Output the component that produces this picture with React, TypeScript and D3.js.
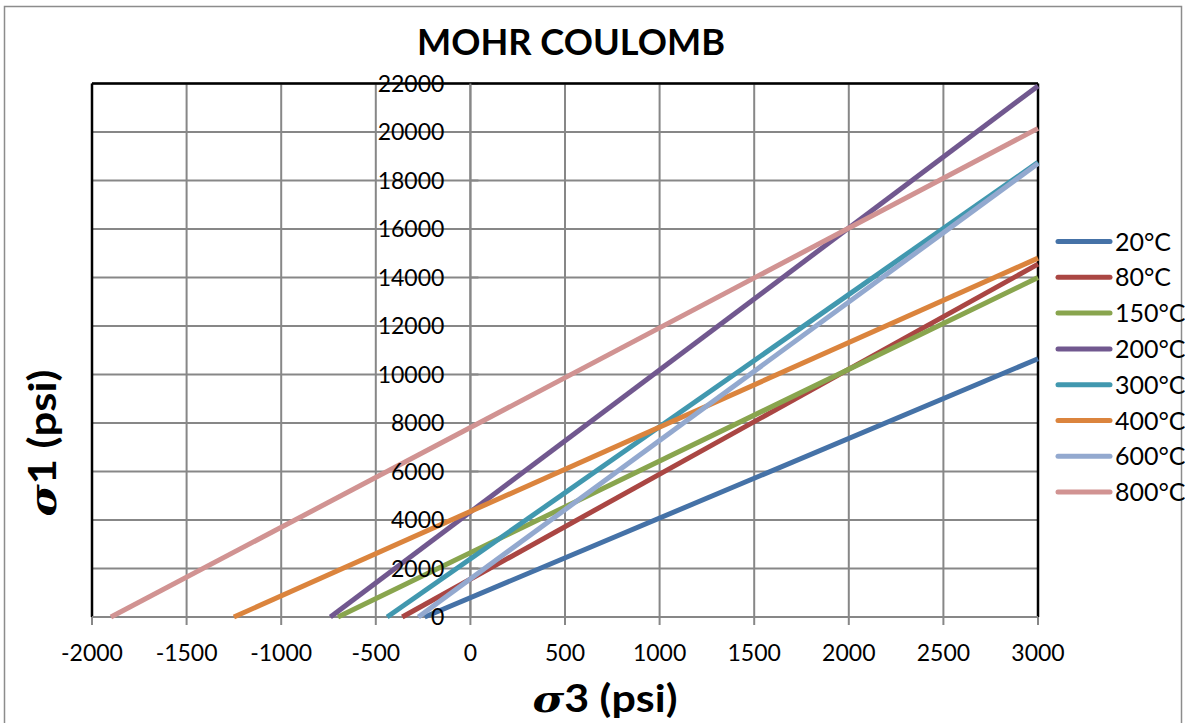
import React from "react";
import * as d3 from "d3";

// Failure envelopes: σ1 against σ3 (psi), one straight line per test temperature
const temperatures = ["20°C", "80°C", "150°C", "200°C", "300°C", "400°C", "600°C", "800°C"];
// σ3 where each envelope meets σ1 = 0 (tensile cut-off)
const sigma3Start = [-242, -360, -700, -740, -440, -1250, -275, -1900];
// σ1 reached at σ3 = 3000 psi
const sigma3End = 3000;
const sigma1End = [10650, 14550, 14000, 21900, 18750, 14800, 18700, 20150];
const seriesColors = ["#4572A7", "#AA4643", "#89A54E", "#71588F", "#4198AF", "#DB843D", "#93A9CF", "#D19392"];

const xTicks = [-2000, -1500, -1000, -500, 0, 500, 1000, 1500, 2000, 2500, 3000];
const yTicks = [0, 2000, 4000, 6000, 8000, 10000, 12000, 14000, 16000, 18000, 20000, 22000];

const W = 1185;
const H = 723;
const plot = { left: 92, right: 1038, top: 83.5, bottom: 617 };
const gridColor = "#878787";
const font = "Lato, 'Open Sans', 'DejaVu Sans', sans-serif";

export default function App() {
  const x = d3.scaleLinear().domain([-2000, 3000]).range([plot.left, plot.right]);
  const y = d3.scaleLinear().domain([0, 22000]).range([plot.bottom, plot.top]);
  const line = d3
    .line<[number, number]>()
    .x((d) => x(d[0]))
    .y((d) => y(d[1]));

  const series = temperatures.map((name, i) => ({
    name,
    color: seriesColors[i],
    points: [
      [sigma3Start[i], 0],
      [sigma3End, sigma1End[i]],
    ] as [number, number][],
  }));

  const x0 = x(0);

  return (
    <svg
      width={W}
      height={H}
      style={{ position: "absolute", left: 0, top: 0, background: "#fff" }}
      fontFamily={font}
    >
      <rect x={0} y={0} width={W} height={H} fill="#fff" />
      {/* chart frame */}
      <rect x={4.5} y={6.5} width={1177} height={722} fill="none" stroke="#8c8c8c" strokeWidth={1.5} />

      {/* title */}
      <text
        x={571}
        y={55}
        textAnchor="middle"
        fontSize={37}
        fontWeight="bold"
        textLength={308}
        lengthAdjust="spacingAndGlyphs"
        fill="#000"
      >
        MOHR COULOMB
      </text>

      {/* gridlines */}
      <g stroke={gridColor} strokeWidth={2}>
        {xTicks.map((t) => (
          <line key={"gx" + t} x1={x(t)} x2={x(t)} y1={plot.top} y2={plot.bottom + 8} />
        ))}
        {yTicks.map((t) => (
          <line key={"gy" + t} x1={plot.left} x2={plot.right} y1={y(t)} y2={y(t)} />
        ))}
        {/* y axis ticks at σ3 = 0 */}
        {yTicks.map((t) => (
          <line key={"ty" + t} x1={x0} x2={x0 + 8} y1={y(t)} y2={y(t)} />
        ))}
      </g>

      {/* plot border */}
      <g stroke="#000" strokeWidth={2.5} fill="none">
        <line x1={plot.left} x2={plot.right} y1={plot.top} y2={plot.top} />
        <line x1={plot.left} x2={plot.left} y1={plot.top} y2={plot.bottom} />
        <line x1={plot.right} x2={plot.right} y1={plot.top} y2={plot.bottom} />
      </g>
      <line x1={plot.left} x2={plot.right} y1={plot.bottom} y2={plot.bottom} stroke={gridColor} strokeWidth={2} />
      <line x1={x0} x2={x0} y1={plot.top} y2={plot.bottom} stroke={gridColor} strokeWidth={2} />

      {/* series */}
      <g fill="none" strokeWidth={5} strokeLinecap="butt">
        {series.map((s) => (
          <path key={s.name} d={line(s.points) ?? ""} stroke={s.color} />
        ))}
      </g>

      {/* tick labels */}
      <g fontSize={23} fill="#000">
        {xTicks.map((t) => (
          <text key={"lx" + t} x={x(t)} y={661} textAnchor="middle">
            {t}
          </text>
        ))}
        {yTicks.map((t) => (
          <text key={"ly" + t} x={x0 - 26} y={y(t)} dy="0.36em" textAnchor="end">
            {t}
          </text>
        ))}
      </g>

      {/* axis titles */}
      <text
        x={605}
        y={712}
        textAnchor="middle"
        fontSize={38}
        fontWeight="bold"
        fill="#000"
        textLength={145}
        lengthAdjust="spacingAndGlyphs"
      >
        <tspan fontFamily="'DejaVu Serif', serif" fontStyle="italic">σ</tspan>
        <tspan>3 (psi)</tspan>
      </text>
      <text
        transform="translate(56,443) rotate(-90)"
        textAnchor="middle"
        fontSize={38}
        fontWeight="bold"
        fill="#000"
        textLength={147}
        lengthAdjust="spacingAndGlyphs"
      >
        <tspan fontFamily="'DejaVu Serif', serif" fontStyle="italic">σ</tspan>
        <tspan>1 (psi)</tspan>
      </text>

      {/* legend */}
      <g>
        {series.map((s, i) => {
          const ly = 241.5 + i * 35.8;
          return (
            <g key={"lg" + s.name}>
              <line x1={1058} x2={1110} y1={ly} y2={ly} stroke={s.color} strokeWidth={5} strokeLinecap="round" />
              <text x={1115} y={ly} dy="0.36em" fontSize={25} fill="#000">
                {s.name}
              </text>
            </g>
          );
        })}
      </g>
    </svg>
  );
}
